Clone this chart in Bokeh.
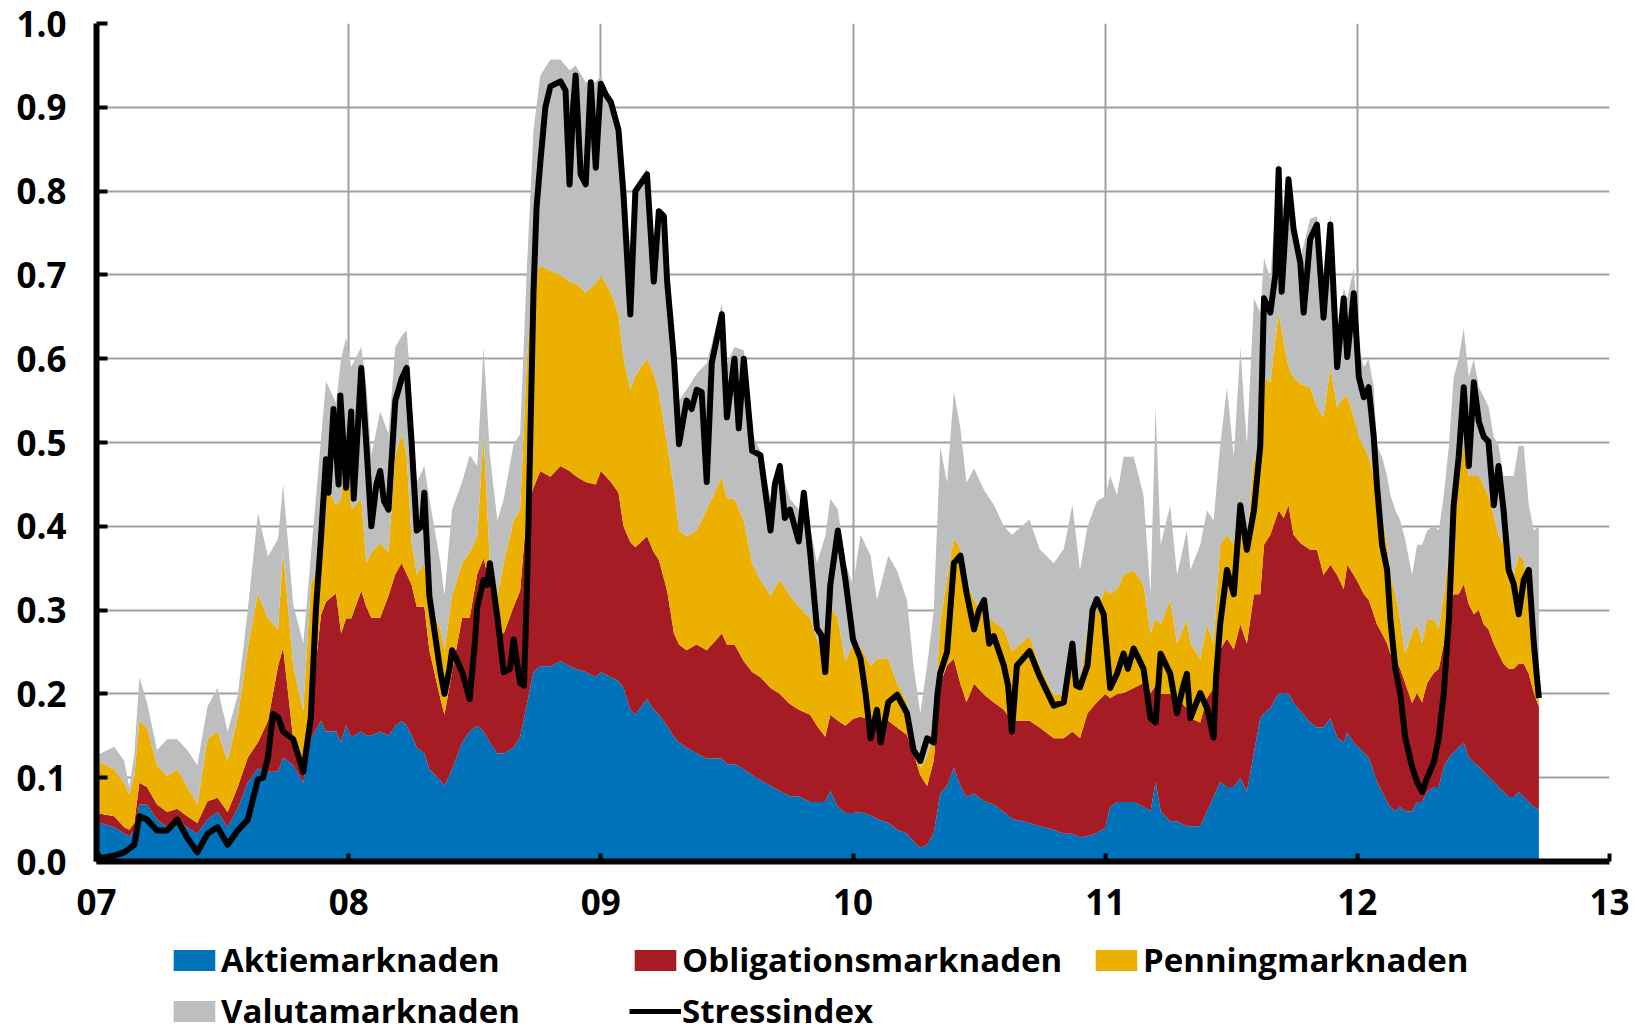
from bokeh.plotting import figure
from bokeh.layouts import column
from bokeh.models import ColumnDataSource, FixedTicker, Legend, LegendItem, PrintfTickFormatter
from bokeh.embed import file_html
from bokeh.resources import INLINE

# ---- data (decimal years) ----
years = [2007.000, 2007.016, 2007.070, 2007.110, 2007.130, 2007.150, 2007.170, 2007.200, 2007.240, 2007.280,
         2007.320, 2007.360, 2007.400, 2007.440, 2007.480, 2007.520, 2007.560, 2007.600, 2007.640, 2007.680,
         2007.720, 2007.740, 2007.780, 2007.820, 2007.850, 2007.890, 2007.910, 2007.950, 2007.970, 2007.990,
         2008.010, 2008.050, 2008.070, 2008.090, 2008.125, 2008.158, 2008.185, 2008.210, 2008.230, 2008.250,
         2008.270, 2008.300, 2008.320, 2008.364, 2008.380, 2008.410, 2008.450, 2008.480, 2008.510, 2008.535,
         2008.560, 2008.590, 2008.615, 2008.654, 2008.680, 2008.707, 2008.733, 2008.760, 2008.800, 2008.840,
         2008.876, 2008.900, 2008.940, 2008.980, 2009.000, 2009.040, 2009.070, 2009.090, 2009.117, 2009.137,
         2009.183, 2009.210, 2009.230, 2009.263, 2009.290, 2009.310, 2009.340, 2009.380, 2009.420, 2009.480,
         2009.500, 2009.530, 2009.567, 2009.600, 2009.633, 2009.673, 2009.710, 2009.750, 2009.785, 2009.830,
         2009.857, 2009.890, 2009.910, 2009.940, 2009.970, 2010.000, 2010.030, 2010.070, 2010.095, 2010.140,
         2010.175, 2010.214, 2010.240, 2010.267, 2010.294, 2010.320, 2010.346, 2010.373, 2010.400, 2010.426,
         2010.450, 2010.480, 2010.520, 2010.558, 2010.598, 2010.630, 2010.700, 2010.740, 2010.796, 2010.836,
         2010.870, 2010.900, 2010.930, 2010.967, 2011.000, 2011.020, 2011.047, 2011.073, 2011.113, 2011.152,
         2011.180, 2011.200, 2011.220, 2011.258, 2011.285, 2011.324, 2011.338, 2011.377, 2011.404, 2011.430,
         2011.456, 2011.483, 2011.510, 2011.536, 2011.562, 2011.590, 2011.615, 2011.630, 2011.655, 2011.688,
         2011.708, 2011.727, 2011.747, 2011.774, 2011.813, 2011.840, 2011.866, 2011.893, 2011.920, 2011.946,
         2011.960, 2011.986, 2012.006, 2012.026, 2012.045, 2012.065, 2012.078, 2012.098, 2012.118, 2012.131,
         2012.151, 2012.170, 2012.190, 2012.217, 2012.237, 2012.257, 2012.277, 2012.303, 2012.323, 2012.343,
         2012.363, 2012.382, 2012.402, 2012.422, 2012.442, 2012.462, 2012.482, 2012.501, 2012.520, 2012.541,
         2012.560, 2012.580, 2012.600, 2012.620, 2012.640, 2012.660, 2012.680, 2012.700, 2012.720]

aktie = [0.045, 0.046, 0.041, 0.033, 0.030, 0.037, 0.068, 0.068, 0.050, 0.041,
         0.050, 0.041, 0.033, 0.050, 0.059, 0.041, 0.063, 0.094, 0.111, 0.107,
         0.107, 0.124, 0.115, 0.094, 0.146, 0.168, 0.155, 0.155, 0.142, 0.163,
         0.148, 0.155, 0.150, 0.150, 0.155, 0.150, 0.162, 0.168, 0.162, 0.150,
         0.136, 0.129, 0.110, 0.097, 0.090, 0.110, 0.142, 0.155, 0.162, 0.155,
         0.142, 0.129, 0.129, 0.136, 0.149, 0.188, 0.226, 0.233, 0.233, 0.239,
         0.233, 0.230, 0.226, 0.220, 0.226, 0.220, 0.215, 0.207, 0.181, 0.175,
         0.194, 0.181, 0.175, 0.162, 0.149, 0.142, 0.136, 0.129, 0.123, 0.123,
         0.116, 0.116, 0.110, 0.103, 0.097, 0.090, 0.084, 0.078, 0.078, 0.071,
         0.071, 0.071, 0.084, 0.065, 0.058, 0.058, 0.059, 0.055, 0.051, 0.046,
         0.038, 0.033, 0.024, 0.016, 0.020, 0.033, 0.081, 0.090, 0.112, 0.090,
         0.077, 0.081, 0.072, 0.068, 0.059, 0.051, 0.046, 0.042, 0.038, 0.033,
         0.033, 0.029, 0.030, 0.034, 0.040, 0.065, 0.071, 0.071, 0.071, 0.065,
         0.060, 0.095, 0.060, 0.048, 0.048, 0.042, 0.042, 0.042, 0.060, 0.077,
         0.095, 0.089, 0.089, 0.100, 0.083, 0.130, 0.171, 0.177, 0.183, 0.201,
         0.200, 0.201, 0.189, 0.180, 0.166, 0.160, 0.160, 0.171, 0.148, 0.142,
         0.154, 0.142, 0.136, 0.130, 0.124, 0.107, 0.095, 0.083, 0.071, 0.065,
         0.060, 0.065, 0.060, 0.060, 0.071, 0.071, 0.083, 0.089, 0.089, 0.113,
         0.124, 0.130, 0.136, 0.142, 0.124, 0.118, 0.113, 0.107, 0.101, 0.095,
         0.089, 0.083, 0.077, 0.077, 0.083, 0.077, 0.071, 0.065, 0.062]

oblig = [0.013, 0.011, 0.013, 0.008, 0.008, 0.009, 0.026, 0.021, 0.018, 0.018,
         0.013, 0.013, 0.013, 0.022, 0.017, 0.018, 0.026, 0.030, 0.031, 0.061,
         0.126, 0.131, 0.031, 0.026, 0.034, 0.126, 0.155, 0.165, 0.130, 0.127,
         0.142, 0.168, 0.154, 0.141, 0.136, 0.167, 0.181, 0.188, 0.181, 0.180,
         0.168, 0.175, 0.142, 0.097, 0.085, 0.116, 0.149, 0.136, 0.181, 0.207,
         0.188, 0.149, 0.143, 0.168, 0.174, 0.232, 0.220, 0.233, 0.226, 0.233,
         0.233, 0.230, 0.227, 0.230, 0.240, 0.233, 0.225, 0.193, 0.200, 0.200,
         0.194, 0.188, 0.185, 0.161, 0.123, 0.117, 0.116, 0.130, 0.129, 0.149,
         0.143, 0.143, 0.129, 0.123, 0.123, 0.117, 0.116, 0.110, 0.103, 0.104,
         0.091, 0.078, 0.091, 0.103, 0.104, 0.112, 0.114, 0.113, 0.113, 0.122,
         0.122, 0.118, 0.105, 0.087, 0.070, 0.087, 0.131, 0.144, 0.130, 0.122,
         0.113, 0.131, 0.127, 0.122, 0.122, 0.117, 0.122, 0.118, 0.109, 0.114,
         0.122, 0.118, 0.147, 0.156, 0.160, 0.130, 0.129, 0.130, 0.136, 0.148,
         0.141, 0.115, 0.140, 0.152, 0.147, 0.141, 0.129, 0.124, 0.135, 0.130,
         0.158, 0.177, 0.164, 0.183, 0.177, 0.189, 0.148, 0.201, 0.207, 0.218,
         0.210, 0.224, 0.201, 0.200, 0.206, 0.212, 0.182, 0.183, 0.194, 0.183,
         0.200, 0.200, 0.195, 0.189, 0.188, 0.188, 0.188, 0.189, 0.189, 0.183,
         0.182, 0.165, 0.153, 0.129, 0.130, 0.119, 0.130, 0.136, 0.141, 0.147,
         0.183, 0.189, 0.183, 0.189, 0.183, 0.177, 0.187, 0.176, 0.176, 0.165,
         0.159, 0.153, 0.153, 0.153, 0.153, 0.159, 0.153, 0.136, 0.123]

penning = [0.060, 0.061, 0.056, 0.053, 0.042, 0.056, 0.074, 0.071, 0.047, 0.043,
           0.047, 0.035, 0.022, 0.074, 0.079, 0.061, 0.083, 0.131, 0.178, 0.122,
           0.044, 0.115, 0.087, 0.060, 0.150, 0.070, 0.140, 0.105, 0.161, 0.226,
           0.130, 0.110, 0.052, 0.078, 0.089, 0.052, 0.142, 0.154, 0.142, 0.050,
           0.039, 0.052, 0.052, 0.084, 0.077, 0.091, 0.065, 0.078, 0.045, 0.148,
           0.026, 0.039, 0.084, 0.103, 0.097, 0.180, 0.254, 0.245, 0.246, 0.228,
           0.226, 0.230, 0.226, 0.240, 0.234, 0.226, 0.213, 0.200, 0.182, 0.205,
           0.212, 0.213, 0.200, 0.175, 0.174, 0.136, 0.136, 0.136, 0.168, 0.187,
           0.174, 0.174, 0.168, 0.130, 0.116, 0.110, 0.136, 0.129, 0.123, 0.116,
           0.103, 0.090, 0.129, 0.123, 0.077, 0.090, 0.083, 0.066, 0.078, 0.074,
           0.052, 0.039, 0.018, 0.009, 0.035, 0.035, 0.074, 0.104, 0.144, 0.161,
           0.144, 0.100, 0.096, 0.096, 0.096, 0.083, 0.101, 0.074, 0.052, 0.052,
           0.096, 0.068, 0.100, 0.110, 0.125, 0.124, 0.125, 0.141, 0.141, 0.117,
           0.071, 0.080, 0.083, 0.112, 0.065, 0.106, 0.089, 0.076, 0.088, 0.053,
           0.125, 0.124, 0.125, 0.154, 0.118, 0.164, 0.141, 0.200, 0.182, 0.236,
           0.210, 0.165, 0.188, 0.190, 0.194, 0.170, 0.188, 0.236, 0.200, 0.230,
           0.201, 0.189, 0.176, 0.176, 0.171, 0.165, 0.154, 0.141, 0.118, 0.094,
           0.077, 0.059, 0.035, 0.083, 0.082, 0.070, 0.076, 0.064, 0.047, 0.059,
           0.059, 0.106, 0.153, 0.165, 0.153, 0.165, 0.160, 0.165, 0.160, 0.153,
           0.142, 0.142, 0.124, 0.112, 0.130, 0.124, 0.095, 0.071, 0.015]

valuta = [0.010, 0.011, 0.027, 0.026, 0.009, 0.026, 0.052, 0.030, 0.018, 0.044,
          0.036, 0.044, 0.047, 0.039, 0.052, 0.035, 0.026, 0.045, 0.096, 0.074,
          0.108, 0.080, 0.074, 0.080, 0.034, 0.139, 0.123, 0.122, 0.167, 0.109,
          0.170, 0.181, 0.213, 0.116, 0.157, 0.141, 0.129, 0.117, 0.149, 0.170,
          0.110, 0.116, 0.129, 0.078, 0.065, 0.103, 0.097, 0.116, 0.084, 0.104,
          0.129, 0.090, 0.077, 0.091, 0.090, 0.110, 0.173, 0.227, 0.252, 0.257,
          0.252, 0.260, 0.251, 0.240, 0.238, 0.227, 0.220, 0.208, 0.168, 0.220,
          0.228, 0.162, 0.216, 0.220, 0.168, 0.155, 0.175, 0.187, 0.175, 0.207,
          0.162, 0.181, 0.203, 0.154, 0.154, 0.116, 0.136, 0.116, 0.116, 0.109,
          0.091, 0.149, 0.129, 0.129, 0.117, 0.070, 0.134, 0.131, 0.070, 0.123,
          0.135, 0.122, 0.087, 0.065, 0.109, 0.144, 0.209, 0.114, 0.175, 0.144,
          0.118, 0.157, 0.148, 0.140, 0.123, 0.139, 0.139, 0.139, 0.157, 0.174,
          0.175, 0.132, 0.123, 0.130, 0.111, 0.141, 0.112, 0.141, 0.135, 0.107,
          0.047, 0.253, 0.095, 0.113, 0.082, 0.106, 0.088, 0.136, 0.136, 0.147,
          0.118, 0.176, 0.105, 0.176, 0.118, 0.189, 0.195, 0.142, 0.124, 0.182,
          0.160, 0.230, 0.177, 0.150, 0.201, 0.228, 0.142, 0.183, 0.089, 0.129,
          0.117, 0.177, 0.106, 0.095, 0.117, 0.106, 0.059, 0.070, 0.082, 0.095,
          0.100, 0.118, 0.136, 0.070, 0.095, 0.118, 0.106, 0.112, 0.118, 0.118,
          0.130, 0.153, 0.128, 0.141, 0.118, 0.140, 0.106, 0.107, 0.106, 0.094,
          0.106, 0.082, 0.106, 0.118, 0.130, 0.136, 0.106, 0.123, 0.200]

stress_years = [2007.000, 2007.016, 2007.070, 2007.110, 2007.150, 2007.170, 2007.200, 2007.240, 2007.280, 2007.320,
                2007.360, 2007.400, 2007.440, 2007.480, 2007.520, 2007.560, 2007.600, 2007.640, 2007.660, 2007.680,
                2007.700, 2007.720, 2007.740, 2007.780, 2007.820, 2007.850, 2007.870, 2007.890, 2007.910, 2007.920,
                2007.940, 2007.960, 2007.967, 2007.990, 2008.010, 2008.020, 2008.050, 2008.070, 2008.090, 2008.110,
                2008.125, 2008.140, 2008.158, 2008.185, 2008.210, 2008.230, 2008.250, 2008.270, 2008.290, 2008.300,
                2008.320, 2008.364, 2008.380, 2008.400, 2008.410, 2008.430, 2008.450, 2008.480, 2008.500, 2008.510,
                2008.535, 2008.550, 2008.560, 2008.590, 2008.615, 2008.640, 2008.654, 2008.680, 2008.695, 2008.707,
                2008.720, 2008.733, 2008.745, 2008.760, 2008.780, 2008.800, 2008.840, 2008.860, 2008.876, 2008.890,
                2008.900, 2008.920, 2008.940, 2008.960, 2008.980, 2009.000, 2009.020, 2009.040, 2009.070, 2009.090,
                2009.117, 2009.137, 2009.160, 2009.183, 2009.210, 2009.230, 2009.250, 2009.263, 2009.290, 2009.310,
                2009.340, 2009.360, 2009.380, 2009.400, 2009.420, 2009.440, 2009.480, 2009.500, 2009.530, 2009.547,
                2009.567, 2009.600, 2009.633, 2009.673, 2009.690, 2009.710, 2009.730, 2009.750, 2009.785, 2009.805,
                2009.830, 2009.857, 2009.875, 2009.890, 2009.910, 2009.940, 2009.970, 2010.000, 2010.030, 2010.050,
                2010.070, 2010.095, 2010.110, 2010.140, 2010.175, 2010.214, 2010.240, 2010.267, 2010.294, 2010.320,
                2010.335, 2010.346, 2010.373, 2010.400, 2010.426, 2010.450, 2010.480, 2010.500, 2010.520, 2010.540,
                2010.558, 2010.598, 2010.615, 2010.630, 2010.650, 2010.700, 2010.740, 2010.796, 2010.836, 2010.870,
                2010.885, 2010.900, 2010.930, 2010.950, 2010.967, 2010.994, 2011.020, 2011.047, 2011.073, 2011.090,
                2011.113, 2011.152, 2011.180, 2011.200, 2011.220, 2011.258, 2011.285, 2011.310, 2011.324, 2011.338,
                2011.377, 2011.404, 2011.430, 2011.440, 2011.456, 2011.483, 2011.510, 2011.536, 2011.562, 2011.590,
                2011.615, 2011.630, 2011.655, 2011.675, 2011.688, 2011.700, 2011.727, 2011.747, 2011.774, 2011.787,
                2011.813, 2011.840, 2011.866, 2011.893, 2011.920, 2011.946, 2011.960, 2011.986, 2012.006, 2012.026,
                2012.045, 2012.065, 2012.078, 2012.098, 2012.118, 2012.131, 2012.151, 2012.170, 2012.190, 2012.217,
                2012.237, 2012.257, 2012.277, 2012.303, 2012.323, 2012.343, 2012.363, 2012.382, 2012.402, 2012.422,
                2012.442, 2012.462, 2012.482, 2012.501, 2012.520, 2012.541, 2012.560, 2012.580, 2012.600, 2012.620,
                2012.640, 2012.660, 2012.680, 2012.700, 2012.720]

stress = [0.010, 0.004, 0.007, 0.011, 0.020, 0.054, 0.050, 0.037, 0.037, 0.050,
          0.028, 0.011, 0.033, 0.041, 0.020, 0.037, 0.050, 0.098, 0.100, 0.124,
          0.176, 0.172, 0.155, 0.146, 0.107, 0.172, 0.300, 0.385, 0.480, 0.440,
          0.540, 0.450, 0.556, 0.446, 0.537, 0.433, 0.589, 0.498, 0.400, 0.450,
          0.466, 0.430, 0.420, 0.550, 0.576, 0.589, 0.498, 0.395, 0.400, 0.440,
          0.317, 0.226, 0.200, 0.230, 0.252, 0.240, 0.226, 0.194, 0.260, 0.304,
          0.336, 0.330, 0.356, 0.291, 0.226, 0.230, 0.265, 0.213, 0.210, 0.323,
          0.500, 0.680, 0.780, 0.834, 0.900, 0.925, 0.931, 0.920, 0.808, 0.900,
          0.938, 0.820, 0.808, 0.930, 0.828, 0.928, 0.915, 0.906, 0.873, 0.796,
          0.653, 0.800, 0.810, 0.820, 0.692, 0.776, 0.770, 0.692, 0.600, 0.498,
          0.550, 0.540, 0.563, 0.560, 0.453, 0.595, 0.653, 0.530, 0.600, 0.517,
          0.600, 0.490, 0.485, 0.395, 0.450, 0.472, 0.410, 0.420, 0.382, 0.440,
          0.369, 0.278, 0.270, 0.226, 0.330, 0.395, 0.336, 0.265, 0.242, 0.200,
          0.147, 0.181, 0.142, 0.190, 0.199, 0.177, 0.133, 0.120, 0.147, 0.142,
          0.200, 0.225, 0.250, 0.356, 0.365, 0.321, 0.277, 0.300, 0.312, 0.260,
          0.269, 0.234, 0.210, 0.155, 0.234, 0.251, 0.221, 0.186, 0.190, 0.260,
          0.210, 0.208, 0.234, 0.300, 0.313, 0.295, 0.207, 0.224, 0.248, 0.230,
          0.254, 0.230, 0.171, 0.166, 0.248, 0.224, 0.177, 0.210, 0.224, 0.171,
          0.201, 0.183, 0.148, 0.220, 0.283, 0.348, 0.319, 0.425, 0.372, 0.419,
          0.496, 0.672, 0.655, 0.700, 0.826, 0.680, 0.814, 0.755, 0.714, 0.655,
          0.743, 0.760, 0.649, 0.760, 0.590, 0.672, 0.602, 0.678, 0.578, 0.554,
          0.566, 0.507, 0.448, 0.378, 0.348, 0.289, 0.230, 0.201, 0.148, 0.113,
          0.095, 0.083, 0.100, 0.118, 0.148, 0.201, 0.289, 0.425, 0.483, 0.566,
          0.472, 0.572, 0.525, 0.507, 0.501, 0.425, 0.472, 0.419, 0.348, 0.331,
          0.295, 0.336, 0.348, 0.260, 0.195]

series_names = ["Aktiemarknaden", "Obligationsmarknaden", "Penningmarknaden", "Valutamarknaden"]
line_name = "Stressindex"
x_ticks = [2007, 2008, 2009, 2010, 2011, 2012, 2013]
x_tick_labels = ["07", "08", "09", "10", "11", "12", "13"]
y_ticks = [0.0, 0.1, 0.2, 0.3, 0.4, 0.5, 0.6, 0.7, 0.8, 0.9, 1.0]

colors = ["#0072BA", "#A51C24", "#EBB000", "#BDBEC0"]
FONT = "Open Sans"
stackers = ["aktie", "oblig", "penning", "valuta"]

src = ColumnDataSource(dict(x=years, aktie=aktie, oblig=oblig, penning=penning, valuta=valuta))
line_src = ColumnDataSource(dict(x=stress_years, y=stress))

# ---- main chart ----
p = figure(width=1640, height=935, x_range=(2007, 2013), y_range=(0, 1.0),
           output_backend="svg", toolbar_location=None,
           min_border_left=96, min_border_right=31, min_border_top=23, min_border_bottom=74)
p.outline_line_color = None
p.background_fill_color = "white"

p.varea_stack(stackers=stackers, x="x", color=colors, source=src)
p.line("x", "y", source=line_src, line_color="black", line_width=6, line_join="round")

for ax in (p.xaxis[0], p.yaxis[0]):
    ax.axis_line_width = 6
    ax.axis_line_color = "black"
    ax.major_tick_line_width = 4
    ax.major_tick_line_color = "black"
    ax.major_tick_out = 0
    ax.minor_tick_line_color = None
    ax.major_label_text_font = FONT
    ax.major_label_text_font_style = "bold"
    ax.major_label_text_font_size = "35px"
    ax.major_label_text_color = "black"

p.xaxis.ticker = FixedTicker(ticks=x_ticks)
p.xaxis.major_label_overrides = {t: l for t, l in zip(x_ticks, x_tick_labels)}
p.xaxis.major_tick_in = 8
p.xaxis.major_label_standoff = 27

p.yaxis.ticker = FixedTicker(ticks=y_ticks)
p.yaxis.formatter = PrintfTickFormatter(format="%.1f")
p.yaxis.major_tick_in = 11
p.yaxis.major_label_standoff = 30

p.xgrid.ticker = FixedTicker(ticks=x_ticks)
p.ygrid.ticker = FixedTicker(ticks=y_ticks)
p.grid.grid_line_color = "#A0A0A0"
p.grid.grid_line_width = 2

# ---- legend strip (its glyphs lie outside its own ranges, only the legend shows) ----
lg = figure(width=1640, height=98, x_range=(0, 1), y_range=(0, 1),
            x_axis_type=None, y_axis_type=None, output_backend="svg",
            toolbar_location=None, min_border=0)
lg.outline_line_color = None
lg.grid.visible = False
lareas = lg.varea_stack(stackers=stackers, x="x", color=colors, source=src)
lline = lg.line("x", "y", source=line_src, line_color="black", line_width=5)

items = [LegendItem(label=n, renderers=[r]) for n, r in zip(series_names, lareas)]
items.append(LegendItem(label=line_name, renderers=[lline]))
legend = Legend(items=items, location=(72, 0), orientation="horizontal", ncols=3,
                glyph_width=52, glyph_height=26, label_standoff=1, label_width=402, spacing=6,
                padding=0, margin=0, border_line_color=None, background_fill_alpha=0,
                label_text_font=FONT, label_text_font_style="bold",
                label_text_font_size="33px", label_text_color="black")
lg.add_layout(legend)

layout = column(p, lg, spacing=0)
open("out.html", "w").write(file_html(layout, INLINE))
